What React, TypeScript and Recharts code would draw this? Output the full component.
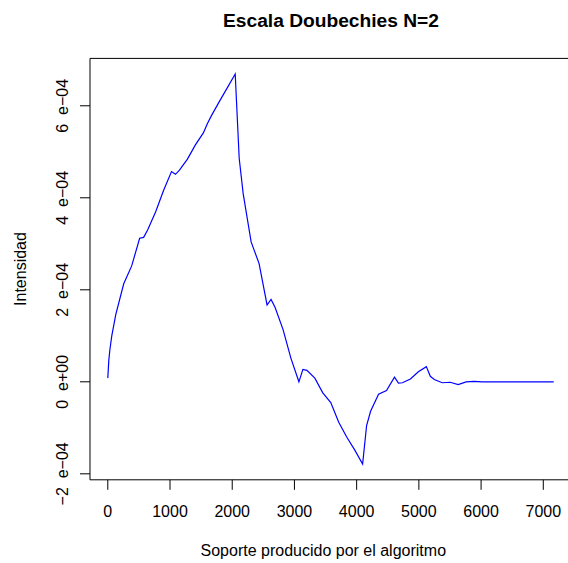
import { Line, LineChart, ReferenceArea, XAxis, YAxis } from "recharts";

// eje x: posición en el soporte
const soporte = [
  0, 16, 32, 64, 128, 256, 384, 512, 576, 640, 768, 896, 1024, 1088, 1152, 1280,
  1408, 1536, 1600, 1664, 1792, 1920, 2048, 2112, 2176, 2304, 2432, 2560, 2624,
  2688, 2816, 2944, 3072, 3136, 3200, 3328, 3456, 3584, 3712, 3840, 3968, 4096,
  4160, 4224, 4352, 4480, 4608, 4672, 4736, 4864, 4992, 5120, 5184, 5248, 5376,
  5504, 5632, 5760, 5888, 6016, 6144, 7168,
];

// intensidad en unidades de 1e-04
const intensidad = [
  0.08, 0.46, 0.68, 1.0, 1.46, 2.13, 2.52, 3.12, 3.14, 3.3, 3.69, 4.16, 4.57, 4.51,
  4.6, 4.84, 5.15, 5.41, 5.61, 5.78, 6.09, 6.39, 6.69, 4.86, 4.09, 3.04, 2.57, 1.67,
  1.79, 1.62, 1.14, 0.51, 0.0, 0.27, 0.25, 0.08, -0.24, -0.45, -0.88, -1.2, -1.48,
  -1.79, -0.95, -0.64, -0.27, -0.19, 0.1, -0.03, -0.02, 0.06, 0.22, 0.33, 0.12, 0.05,
  -0.02, -0.01, -0.06, 0.0, 0.01, 0.0, 0.0, 0.0,
];

const xTicks = [0, 1000, 2000, 3000, 4000, 5000, 6000, 7000];
const yTicks = [-2, 0, 2, 4, 6];
const yTickLabels = ["\u22122\u00a0 e\u221204", "0\u00a0 e+00", "2\u00a0 e\u221204", "4\u00a0 e\u221204", "6\u00a0 e\u221204"];

const X_DOMAIN: [number, number] = [-286, 7455];
const Y_DOMAIN: [number, number] = [-2.13, 7.03];

const FONT = "'Liberation Sans', Arial, Helvetica, sans-serif";

const data = soporte.map((x, i) => ({ x, y: intensidad[i] }));

const XTick = ({ x, y, payload }: any) => (
  <text x={x} y={y + 25} textAnchor="middle" fontSize={16} fontFamily={FONT} fill="#000">
    {payload.value}
  </text>
);

const YTick = ({ x, y, payload }: any) => {
  const idx = yTicks.indexOf(payload.value);
  const bx = x - 10;
  return (
    <text
      x={bx}
      y={y}
      transform={`rotate(-90, ${bx}, ${y})`}
      textAnchor="middle"
      fontSize={16}
      fontFamily={FONT}
      fill="#000"
    >
      {yTickLabels[idx]}
    </text>
  );
};

export default function App() {
  return (
    <div style={{ position: "absolute", left: 0, top: 0, width: 568, height: 563, overflow: "hidden", background: "#fff" }}>
      <LineChart
        width={580}
        height={563}
        data={data}
        margin={{ top: 58.4, right: 8.4, bottom: 53.2, left: 30 }}
      >
        <XAxis
          type="number"
          dataKey="x"
          domain={X_DOMAIN}
          ticks={xTicks}
          allowDataOverflow
          axisLine={false}
          tickLine={{ stroke: "#000", strokeWidth: 1 }}
          tickSize={10}
          tickMargin={2}
          tick={<XTick />}
          height={30}
        />
        <YAxis
          type="number"
          domain={Y_DOMAIN}
          ticks={yTicks}
          allowDataOverflow
          axisLine={false}
          tickLine={{ stroke: "#000", strokeWidth: 1 }}
          tickSize={10}
          tickMargin={2}
          tick={<YTick />}
          width={60}
        />
        <ReferenceArea
          x1={X_DOMAIN[0]}
          x2={X_DOMAIN[1]}
          y1={Y_DOMAIN[0]}
          y2={Y_DOMAIN[1]}
          fill="none"
          stroke="#000"
          strokeWidth={1}
          ifOverflow="visible"
        />
        <Line
          type="linear"
          dataKey="y"
          stroke="#0000ff"
          strokeWidth={1.2}
          dot={false}
          isAnimationActive={false}
        />
        <text x={331} y={27.3} textAnchor="middle" fontSize={19.2} fontWeight="bold" fontFamily={FONT} fill="#000">
          Escala Doubechies N=2
        </text>
        <text x={323.3} y={555.7} textAnchor="middle" fontSize={16} fontFamily={FONT} fill="#000">
          Soporte producido por el algoritmo
        </text>
        <text x={26} y={269} transform="rotate(-90, 26, 269)" textAnchor="middle" fontSize={16} fontFamily={FONT} fill="#000">
          Intensidad
        </text>
      </LineChart>
    </div>
  );
}
